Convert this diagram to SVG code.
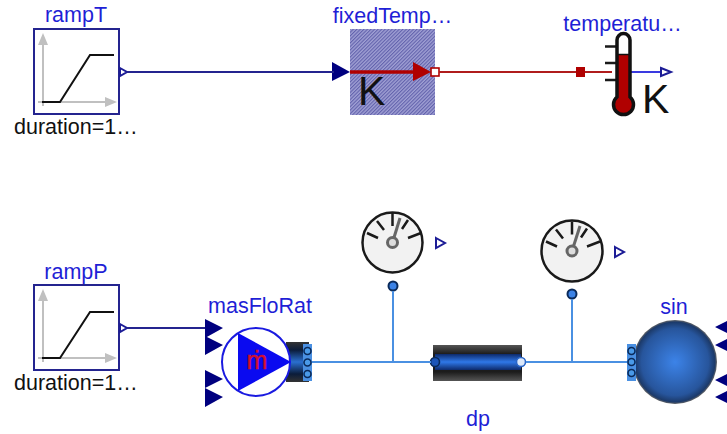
<svg xmlns="http://www.w3.org/2000/svg" width="727" height="434" viewBox="0 0 727 434">
<style>
text{font-family:"Liberation Sans",Arial,sans-serif}
.lbl{font-size:21.500px;fill:#1f1fd6;text-anchor:middle}
.par{font-size:21.500px;fill:#111}
.box{fill:#fff;stroke:#24248f;stroke-width:2}
.ax{stroke:#c0c0c0;stroke-width:2;fill:none}
.axh{fill:#c0c0c0}
.curve{stroke:#111;stroke-width:2;fill:none}
.out{fill:#fff;stroke:#1c1c96;stroke-width:2}
.navy{fill:#00007f}
.sig{stroke:#24248f;stroke-width:2;fill:none}
.fluid{stroke:#4a90e2;stroke-width:2;fill:none}
.dial{fill:#f2f2f2;stroke:#1a1a1a;stroke-width:2.500}
.tick{stroke:#1a1a1a;stroke-width:2.500;fill:none}
.pin{fill:#3b82e6;stroke:#0a2a5a;stroke-width:2}
.fp{fill:#4a9ae8;stroke:#0a2a5a;stroke-width:1.600}
.bar{fill:#4a90e2}
</style>
<defs>
<pattern id="hatch" width="2.500" height="2.500" patternUnits="userSpaceOnUse" patternTransform="rotate(45)">
<rect width="2.500" height="2.500" fill="#a0a0d4"/><rect width="1.100" height="2.500" fill="#6262ac"/>
</pattern>
<linearGradient id="pipe" x1="0" y1="0" x2="0" y2="1">
<stop offset="0" stop-color="#555"/><stop offset=".25" stop-color="#1c1c1c"/><stop offset=".75" stop-color="#1c1c1c"/><stop offset="1" stop-color="#555"/>
</linearGradient>
<linearGradient id="core" x1="0" y1="0" x2="0" y2="1">
<stop offset="0" stop-color="#0d2a6b"/><stop offset=".5" stop-color="#2f78e8"/><stop offset="1" stop-color="#0d2a6b"/>
</linearGradient>
<linearGradient id="pump" x1="0" y1="0" x2="0" y2="1">
<stop offset="0" stop-color="#333"/><stop offset=".2" stop-color="#0b1c3a"/><stop offset=".5" stop-color="#2a6fd0"/><stop offset=".8" stop-color="#0b1c3a"/><stop offset="1" stop-color="#333"/>
</linearGradient>
<radialGradient id="ball" cx=".5" cy=".5" r=".5">
<stop offset="0" stop-color="#3c83e8"/><stop offset=".8" stop-color="#27559c"/><stop offset=".95" stop-color="#1c3a6a"/><stop offset="1" stop-color="#666"/>
</radialGradient>
</defs>

<g id="rampT">
<rect class="box" x="34" y="29" width="85" height="85"/>
<path class="ax" d="M43 40V106M38 102H108"/>
<path class="axh" d="M43 33L38 45H48ZM117 102L105 97V107Z"/>
<path class="curve" d="M42 102H60L90 55H114"/>
<path class="out" d="M120 68L127 72L120 76Z"/>
<text class="lbl" x="76" y="22">rampT</text>
<text class="par" x="14" y="134">duration=1…</text>
</g>

<g id="fixedTemp">
<rect x="350" y="29" width="85" height="86" fill="url(#hatch)"/>
<path class="navy" d="M332 62L350 72L332 81Z"/>
<text x="358" y="105" font-size="41" fill="#111">K</text>
<text class="lbl" x="392.500" y="23">fixedTemp…</text>
</g>

<g id="temperature">
<rect x="576" y="67" width="9" height="10" fill="#b00000"/>
<path d="M630 72H664" stroke="#3a3ae0" stroke-width="1.800" fill="none"/>
<path class="out" d="M661 68L671 72L661 76Z"/>
<path class="tick" d="M605 46.500H617M605 63H617M605 80H617"/>
<path d="M617 97V40a6.500 6.500 0 0 1 13 0V97a10 10 0 1 1 -13 0Z" fill="#fff"/>
<path d="M617 55H630V97a10 10 0 1 1 -13 0Z" fill="#b00000"/>
<path d="M617 54.500H630" stroke="#111" stroke-width="1.500"/>
<path d="M617 97V40a6.500 6.500 0 0 1 13 0V97a10 10 0 1 1 -13 0Z" fill="none" stroke="#111" stroke-width="3.500"/>
<text x="642" y="113" font-size="41" fill="#111">K</text>
<text class="lbl" x="622.500" y="31">temperatu…</text>
</g>

<g id="rampP">
<rect class="box" x="34" y="285" width="85" height="85"/>
<path class="ax" d="M43 296V362M38 358H108"/>
<path class="axh" d="M43 289L38 301H48ZM117 358L105 353V363Z"/>
<path class="curve" d="M42 358H60L90 312H114"/>
<path class="out" d="M120 324L127 328L120 332Z"/>
<text class="lbl" x="76" y="279">rampP</text>
<text class="par" x="14" y="390">duration=1…</text>
</g>

<g id="masFloRat">
<path class="navy" d="M205 319L223 328L205 338ZM205 336L223 345L205 355ZM205 370L223 379L205 388ZM205 388L223 397L205 407Z"/>
<rect x="286" y="342" width="23" height="40" fill="url(#pump)"/>
<circle cx="256" cy="362" r="34" fill="#fff" stroke="#1a1ae0" stroke-width="2"/>
<path d="M238 333L291 362L238 391Z" fill="#0a0af0"/>
<rect class="bar" x="303" y="344" width="9" height="37"/>
<circle class="fp" cx="307.500" cy="351" r="3.500"/><circle class="fp" cx="307.500" cy="362.500" r="3.500"/><circle class="fp" cx="307.500" cy="374" r="3.500"/>
<text x="257" y="369" font-size="25" fill="#d01030" text-anchor="middle" stroke="#d01030" stroke-width=".5">ṁ</text>
<text class="lbl" x="260" y="313">masFloRat</text>
</g>

<g id="senP1">
<circle class="dial" cx="392.500" cy="242.500" r="30"/>
<path class="tick" d="M367 233L378 238M377 221L384 230M392.500 213V226M408 220L402 229M421 233L408 238"/>
<path d="M392.500 242.500L400 218" stroke="#666" stroke-width="3"/>
<circle cx="392.500" cy="242.500" r="5" fill="#ddd" stroke="#666" stroke-width="3"/>
<path class="out" d="M436 238L445 243L436 248Z"/>
<circle class="pin" cx="393" cy="286" r="4.500"/>
</g>

<g id="senP2">
<circle class="dial" cx="572" cy="251" r="30.500"/>
<path class="tick" d="M546 241.500L557 246.500M556 229.500L563 238.500M572 221.500V234.500M587 228.500L581 237.500M600 241.500L587 246.500"/>
<path d="M572 251L580 226" stroke="#666" stroke-width="3"/>
<circle cx="572" cy="251" r="5" fill="#ddd" stroke="#666" stroke-width="3"/>
<path class="out" d="M615 247L624 252L615 257Z"/>
<circle class="pin" cx="572" cy="294" r="4.500"/>
</g>

<g id="dp">
<rect x="433" y="345" width="89" height="36" fill="url(#pipe)"/>
<rect x="435" y="354" width="86" height="16" fill="url(#core)"/>
<circle cx="435" cy="362" r="4.500" fill="#1c55b8" stroke="#0a2a5a" stroke-width="1.600"/>
<circle cx="521" cy="362" r="4.500" fill="#dce8fa" stroke="#2a66c8" stroke-width="1.600"/>
<text class="lbl" x="478" y="426">dp</text>
</g>

<g id="sin">
<circle cx="675" cy="362" r="42" fill="url(#ball)"/>
<rect class="bar" x="627" y="344" width="9" height="37"/>
<circle class="fp" cx="631.500" cy="351" r="3.500"/><circle class="fp" cx="631.500" cy="362" r="3.500"/><circle class="fp" cx="631.500" cy="373" r="3.500"/>
<path class="navy" d="M715 327L733 318V336ZM715 345L733 336V354ZM715 380L733 371V389ZM715 397L733 388V406Z"/>
<text class="lbl" x="674" y="314">sin</text>
</g>

<g id="connectors">
<path class="sig" d="M127 72H334"/>
<path d="M350 72H416" stroke="#b00000" stroke-width="3.500" fill="none"/>
<path d="M413 62L431 72L413 81Z" fill="#b00000"/>
<rect x="431" y="68" width="8" height="8" fill="#fff" stroke="#b00000" stroke-width="1.600"/>
<path d="M439 72H576M585 72H612" stroke="#b01c1c" stroke-width="1.800" fill="none"/>
<path class="sig" d="M127 328H205"/>
<path class="fluid" d="M312 362H431M526 362H627M393 291V362M572 299V362"/>
</g>
</svg>
